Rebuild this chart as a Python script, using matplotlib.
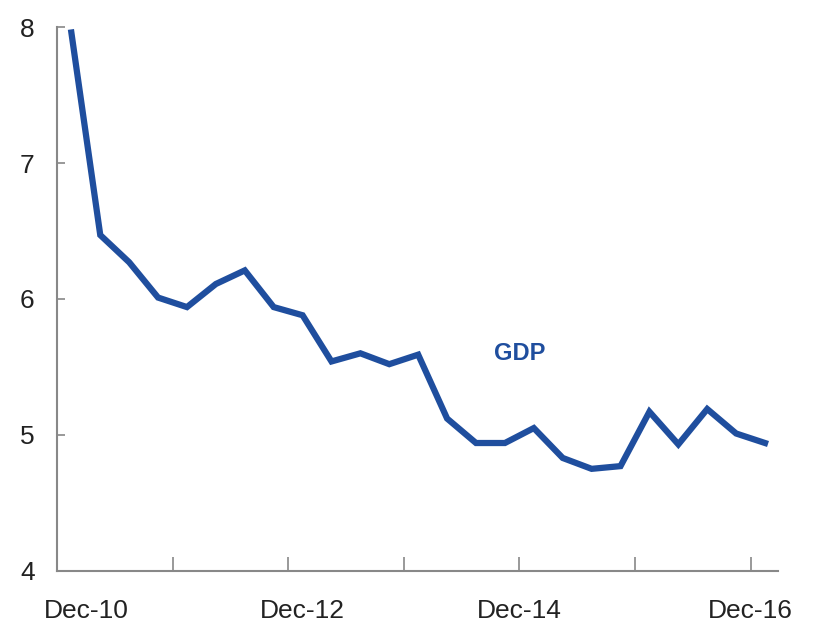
import numpy as np
import matplotlib.pyplot as plt

plt.rcParams['font.family'] = ['Liberation Sans', 'DejaVu Sans']

# quarterly GDP growth, Dec-10 .. Dec-16
gdp = [7.96, 6.47, 6.27, 6.01, 5.94, 6.11, 6.21, 5.94, 5.88, 5.54,
       5.60, 5.52, 5.59, 5.12, 4.94, 4.94, 5.05, 4.83, 4.75, 4.77,
       5.17, 4.93, 5.19, 5.01, 4.94]
xlabels = ['Dec-10', 'Dec-12', 'Dec-14', 'Dec-16']
xlabel_pos = [0.5, 8, 15.5, 23.5]
yticks = [4, 5, 6, 7, 8]

x = np.arange(len(gdp))
blue = '#1f4e9e'

fig = plt.figure(figsize=(8.13, 6.3), dpi=100)
ax = fig.add_axes([0.070, 0.094, 0.887, 0.863])
ax.plot(x, gdp, color=blue, lw=4.5, solid_joinstyle='miter')

ax.set_xlim(-0.5, 24.45)
ax.set_ylim(4, 8)
ax.set_yticks(yticks)
ax.set_yticklabels([str(v) for v in yticks], fontsize=19, color='#222222')
ax.xaxis.remove_overlapping_locs = False
ax.set_xticks(np.arange(-0.5, 24, 4))
ax.set_xticklabels([])
ax.set_xticks(xlabel_pos, minor=True)
ax.set_xticklabels(xlabels, minor=True, fontsize=19, color='#222222')
ax.tick_params(axis='x', which='major', direction='in', length=10, color='#888888', width=1.2)
ax.tick_params(axis='x', which='minor', length=0, pad=20)
ax.tick_params(axis='y', direction='in', length=6, color='#888888', width=1.2, pad=16)

for s in ['top', 'right']:
    ax.spines[s].set_visible(False)
for s in ['left', 'bottom']:
    ax.spines[s].set_color('#888888')
    ax.spines[s].set_linewidth(1.5)

ax.text(15.5, 5.6, 'GDP', color=blue, fontsize=17, fontweight='bold', ha='center', va='center')

fig.savefig('out.png', dpi=100)
